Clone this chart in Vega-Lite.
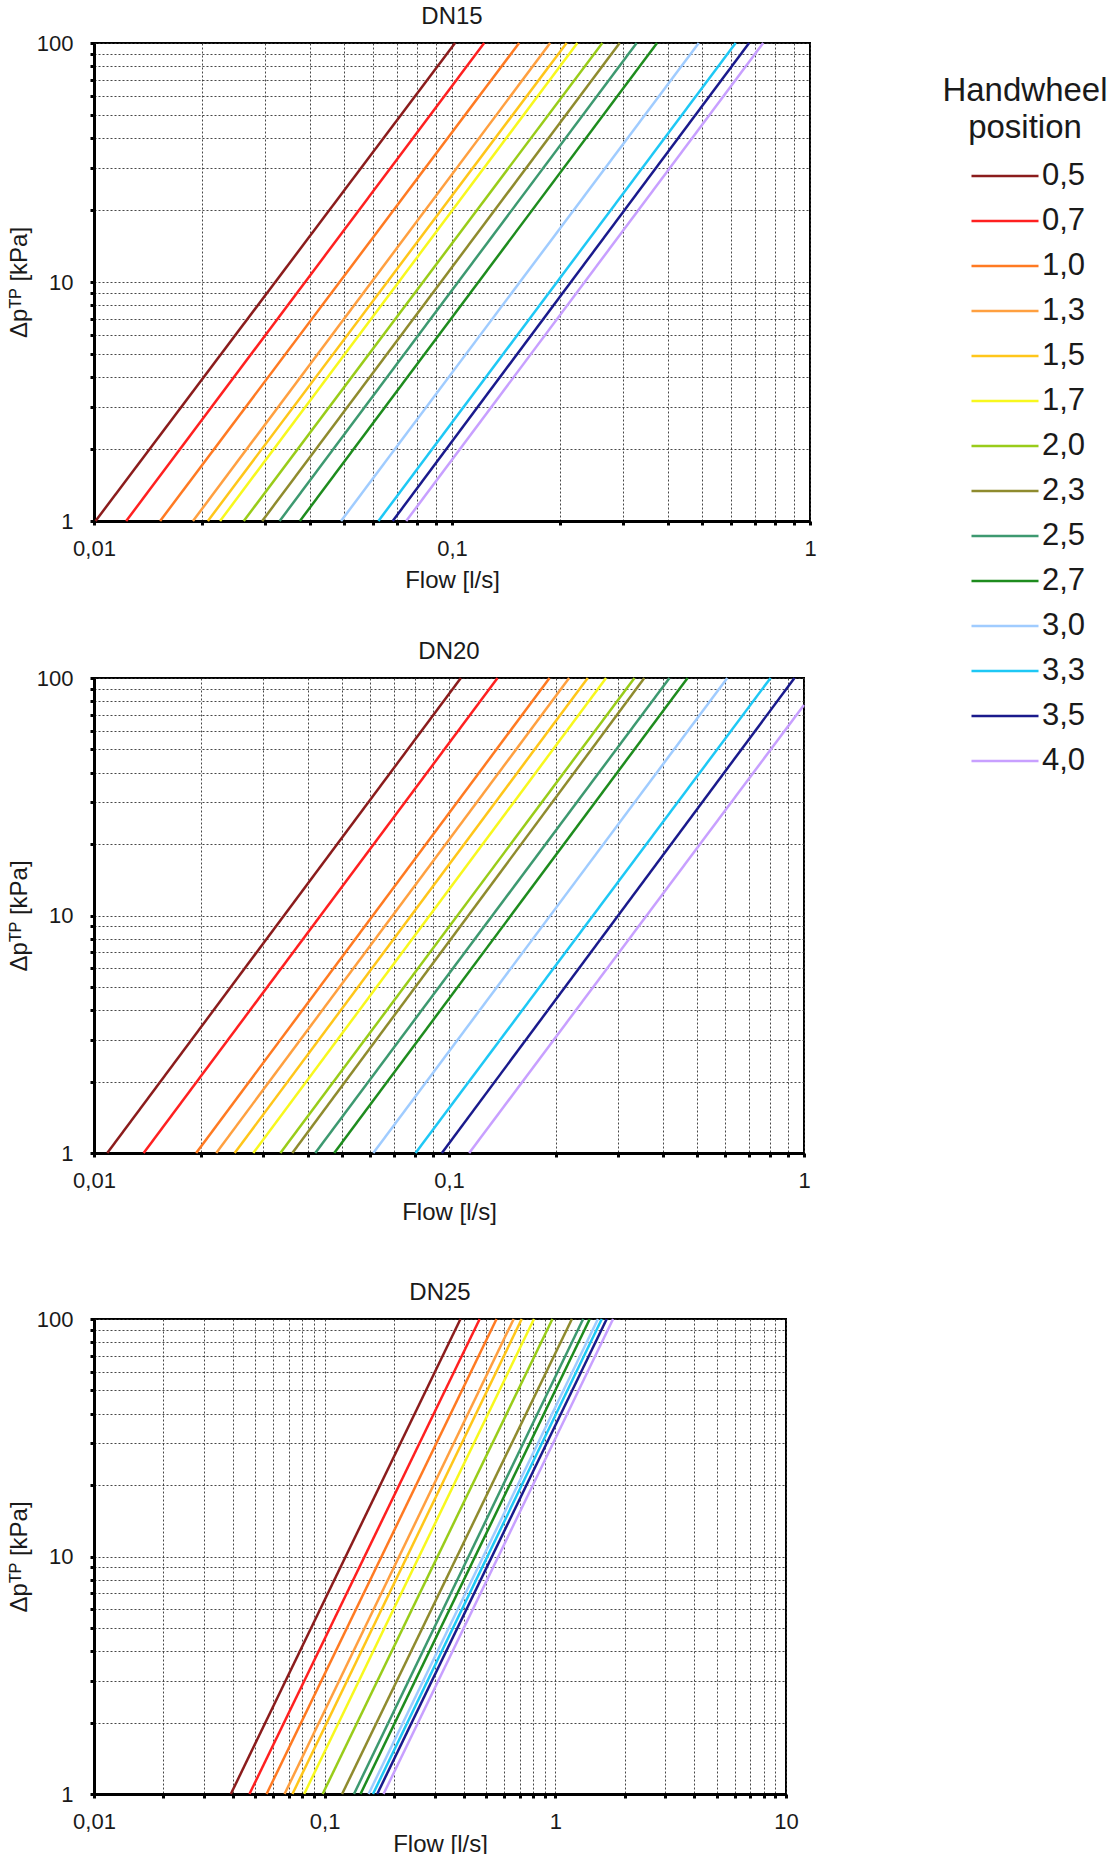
{
  "$schema": "https://vega.github.io/schema/vega-lite/v6.json",
  "padding": {"left": 6, "top": 4, "right": 0, "bottom": 0},
  "config": {
    "font": "Liberation Sans",
    "view": {"stroke": "#000", "strokeWidth": 2},
    "title": {"fontSize": 24, "fontWeight": "normal", "color": "#1a1a1a", "offset": 3, "anchor": "middle"},
    "axis": {
      "labelFont": "Liberation Sans", "titleFont": "Liberation Sans",
      "labelColor": "#1a1a1a", "titleColor": "#1a1a1a",
      "labelFontSize": 22, "titleFontSize": 24, "titleFontWeight": "normal",
      "domainColor": "#000", "domainWidth": 3,
      "tickColor": "#000", "tickWidth": 3, "tickSize": 4,
      "grid": true, "gridColor": "#333", "gridDash": [2, 2], "gridWidth": 1, "gridOpacity": 0.9,
      "labelFlush": false, "labelOverlap": false, "labelBound": false
    },
    "axisX": {"labelPadding": 13, "titlePadding": 9},
    "axisY": {"labelPadding": 17, "titlePadding": 5},
    "legend": {
      "orient": "none", "legendX": 848, "legendY": 32,
      "titleFontSize": 33, "titleFontWeight": "normal", "titleColor": "#1a1a1a",
      "titleAlign": "center", "titleAnchor": "middle", "titleLineHeight": 37, "titlePadding": 1,
      "labelFontSize": 31, "labelColor": "#1a1a1a", "labelOffset": 7,
      "symbolType": "M-1.18,0H1.18", "symbolStrokeWidth": 3, "symbolSize": 3226, "symbolOffset": 11,
      "rowPadding": 0
    },
    "line": {"strokeWidth": 2.5, "clip": true}
  },
  "datasets": {
    "dn15": [
      {"pos": "0,5", "q": 0.0101, "dp": 1}, {"pos": "0,5", "q": 0.102, "dp": 100},
      {"pos": "0,7", "q": 0.0123, "dp": 1}, {"pos": "0,7", "q": 0.123, "dp": 100},
      {"pos": "1,0", "q": 0.0153, "dp": 1}, {"pos": "1,0", "q": 0.154, "dp": 100},
      {"pos": "1,3", "q": 0.0189, "dp": 1}, {"pos": "1,3", "q": 0.188, "dp": 100},
      {"pos": "1,5", "q": 0.0208, "dp": 1}, {"pos": "1,5", "q": 0.209, "dp": 100},
      {"pos": "1,7", "q": 0.0225, "dp": 1}, {"pos": "1,7", "q": 0.224, "dp": 100},
      {"pos": "2,0", "q": 0.0262, "dp": 1}, {"pos": "2,0", "q": 0.263, "dp": 100},
      {"pos": "2,3", "q": 0.0295, "dp": 1}, {"pos": "2,3", "q": 0.294, "dp": 100},
      {"pos": "2,5", "q": 0.0330, "dp": 1}, {"pos": "2,5", "q": 0.328, "dp": 100},
      {"pos": "2,7", "q": 0.0376, "dp": 1}, {"pos": "2,7", "q": 0.374, "dp": 100},
      {"pos": "3,0", "q": 0.0490, "dp": 1}, {"pos": "3,0", "q": 0.489, "dp": 100},
      {"pos": "3,3", "q": 0.0623, "dp": 1}, {"pos": "3,3", "q": 0.620, "dp": 100},
      {"pos": "3,5", "q": 0.0683, "dp": 1}, {"pos": "3,5", "q": 0.676, "dp": 100},
      {"pos": "4,0", "q": 0.0745, "dp": 1}, {"pos": "4,0", "q": 0.740, "dp": 100}
    ],
    "dn20": [
      {"pos": "0,5", "q": 0.0109, "dp": 1}, {"pos": "0,5", "q": 0.108, "dp": 100},
      {"pos": "0,7", "q": 0.0138, "dp": 1}, {"pos": "0,7", "q": 0.137, "dp": 100},
      {"pos": "1,0", "q": 0.0194, "dp": 1}, {"pos": "1,0", "q": 0.192, "dp": 100},
      {"pos": "1,3", "q": 0.0221, "dp": 1}, {"pos": "1,3", "q": 0.218, "dp": 100},
      {"pos": "1,5", "q": 0.0249, "dp": 1}, {"pos": "1,5", "q": 0.246, "dp": 100},
      {"pos": "1,7", "q": 0.0281, "dp": 1}, {"pos": "1,7", "q": 0.277, "dp": 100},
      {"pos": "2,0", "q": 0.0335, "dp": 1}, {"pos": "2,0", "q": 0.333, "dp": 100},
      {"pos": "2,3", "q": 0.0362, "dp": 1}, {"pos": "2,3", "q": 0.355, "dp": 100},
      {"pos": "2,5", "q": 0.0420, "dp": 1}, {"pos": "2,5", "q": 0.418, "dp": 100},
      {"pos": "2,7", "q": 0.0475, "dp": 1}, {"pos": "2,7", "q": 0.470, "dp": 100},
      {"pos": "3,0", "q": 0.0612, "dp": 1}, {"pos": "3,0", "q": 0.608, "dp": 100},
      {"pos": "3,3", "q": 0.0805, "dp": 1}, {"pos": "3,3", "q": 0.805, "dp": 100},
      {"pos": "3,5", "q": 0.0955, "dp": 1}, {"pos": "3,5", "q": 0.940, "dp": 100},
      {"pos": "4,0", "q": 0.114, "dp": 1}, {"pos": "4,0", "q": 1.0, "dp": 77}
    ],
    "dn25": [
      {"pos": "0,5", "q": 0.0392, "dp": 1}, {"pos": "0,5", "q": 0.388, "dp": 100},
      {"pos": "0,7", "q": 0.0472, "dp": 1}, {"pos": "0,7", "q": 0.470, "dp": 100},
      {"pos": "1,0", "q": 0.0560, "dp": 1}, {"pos": "1,0", "q": 0.556, "dp": 100},
      {"pos": "1,3", "q": 0.0670, "dp": 1}, {"pos": "1,3", "q": 0.660, "dp": 100},
      {"pos": "1,5", "q": 0.0725, "dp": 1}, {"pos": "1,5", "q": 0.715, "dp": 100},
      {"pos": "1,7", "q": 0.0815, "dp": 1}, {"pos": "1,7", "q": 0.808, "dp": 100},
      {"pos": "2,0", "q": 0.0980, "dp": 1}, {"pos": "2,0", "q": 0.972, "dp": 100},
      {"pos": "2,3", "q": 0.119, "dp": 1}, {"pos": "2,3", "q": 1.18, "dp": 100},
      {"pos": "2,5", "q": 0.134, "dp": 1}, {"pos": "2,5", "q": 1.32, "dp": 100},
      {"pos": "2,7", "q": 0.143, "dp": 1}, {"pos": "2,7", "q": 1.41, "dp": 100},
      {"pos": "3,0", "q": 0.155, "dp": 1}, {"pos": "3,0", "q": 1.53, "dp": 100},
      {"pos": "3,3", "q": 0.162, "dp": 1}, {"pos": "3,3", "q": 1.59, "dp": 100},
      {"pos": "3,5", "q": 0.169, "dp": 1}, {"pos": "3,5", "q": 1.67, "dp": 100},
      {"pos": "4,0", "q": 0.180, "dp": 1}, {"pos": "4,0", "q": 1.78, "dp": 100}
    ]
  },
  "spacing": 55,
  "vconcat": [
    {
      "spacing": 46,
      "vconcat": [
        {
          "title": "DN15",
          "width": 716, "height": 478,
          "data": {"name": "dn15"},
          "mark": {"type": "line"},
          "encoding": {
            "x": {"field": "q", "type": "quantitative", "title": "Flow [l/s]",
              "scale": {"type": "log", "domain": [0.01, 1], "nice": false},
              "axis": {"values": [0.01,0.02,0.03,0.04,0.05,0.06,0.07,0.08,0.09,0.1,0.2,0.3,0.4,0.5,0.6,0.7,0.8,0.9,1],
                "labelExpr": "abs(log(datum.value)/LN10 - round(log(datum.value)/LN10)) < 0.001 ? replace(format(datum.value, '~g'), '.', ',') : ''"}},
            "y": {"field": "dp", "type": "quantitative", "title": "Δpᵀᴾ [kPa]",
              "scale": {"type": "log", "domain": [1, 100], "nice": false},
              "axis": {"values": [1,2,3,4,5,6,7,8,9,10,20,30,40,50,60,70,80,90,100],
                "labelExpr": "abs(log(datum.value)/LN10 - round(log(datum.value)/LN10)) < 0.001 ? format(datum.value, '~g') : ''"}},
            "color": {"field": "pos", "type": "nominal", "title": ["Handwheel", "position"],
              "scale": {"domain": ["0,5","0,7","1,0","1,3","1,5","1,7","2,0","2,3","2,5","2,7","3,0","3,3","3,5","4,0"],
                "range": ["#8B1C1C","#FF2020","#FF7A22","#FFA040","#FFC61A","#F8F81E","#99CC1A","#8F8B2E","#3D9970","#1E8C1E","#A0CCFF","#1EC8F5","#1A1A8C","#C8A0FF"]}}
          }
        },
        {
          "title": "DN20",
          "width": 710, "height": 475,
          "data": {"name": "dn20"},
          "mark": {"type": "line"},
          "encoding": {
            "x": {"field": "q", "type": "quantitative", "title": "Flow [l/s]",
              "scale": {"type": "log", "domain": [0.01, 1], "nice": false},
              "axis": {"values": [0.01,0.02,0.03,0.04,0.05,0.06,0.07,0.08,0.09,0.1,0.2,0.3,0.4,0.5,0.6,0.7,0.8,0.9,1],
                "labelExpr": "abs(log(datum.value)/LN10 - round(log(datum.value)/LN10)) < 0.001 ? replace(format(datum.value, '~g'), '.', ',') : ''"}},
            "y": {"field": "dp", "type": "quantitative", "title": "Δpᵀᴾ [kPa]",
              "scale": {"type": "log", "domain": [1, 100], "nice": false},
              "axis": {"values": [1,2,3,4,5,6,7,8,9,10,20,30,40,50,60,70,80,90,100],
                "labelExpr": "abs(log(datum.value)/LN10 - round(log(datum.value)/LN10)) < 0.001 ? format(datum.value, '~g') : ''"}},
            "color": {"field": "pos", "type": "nominal"}
          }
        }
      ]
    },
    {
      "title": "DN25",
      "width": 692, "height": 475,
      "data": {"name": "dn25"},
      "mark": {"type": "line"},
      "encoding": {
        "x": {"field": "q", "type": "quantitative", "title": "Flow [l/s]",
          "scale": {"type": "log", "domain": [0.01, 10], "nice": false},
          "axis": {"titlePadding": 0,
            "values": [0.01,0.02,0.03,0.04,0.05,0.06,0.07,0.08,0.09,0.1,0.2,0.3,0.4,0.5,0.6,0.7,0.8,0.9,1,2,3,4,5,6,7,8,9,10],
            "labelExpr": "abs(log(datum.value)/LN10 - round(log(datum.value)/LN10)) < 0.001 ? replace(format(datum.value, '~g'), '.', ',') : ''"}},
        "y": {"field": "dp", "type": "quantitative", "title": "Δpᵀᴾ [kPa]",
          "scale": {"type": "log", "domain": [1, 100], "nice": false},
          "axis": {"values": [1,2,3,4,5,6,7,8,9,10,20,30,40,50,60,70,80,90,100],
            "labelExpr": "abs(log(datum.value)/LN10 - round(log(datum.value)/LN10)) < 0.001 ? format(datum.value, '~g') : ''"}},
        "color": {"field": "pos", "type": "nominal"}
      }
    }
  ]
}
